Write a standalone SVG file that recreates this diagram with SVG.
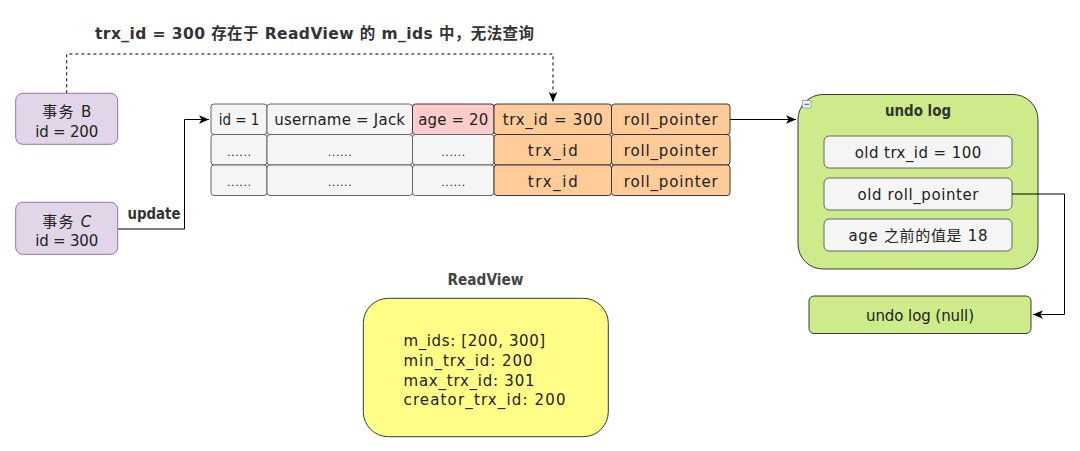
<svg xmlns="http://www.w3.org/2000/svg" width="1080" height="451" viewBox="0 0 1080 451">
<defs>
<style>
text{font-family:"DejaVu Sans","Noto Sans CJK SC",sans-serif;font-size:15px;fill:#222;text-anchor:middle;dominant-baseline:central}
.b{font-weight:bold;fill:#333}
.dots{font-size:11px}
.l{text-anchor:start}
.grey{fill:#f5f5f5;stroke:#666;stroke-width:1}
.pink{fill:#ffcccc;stroke:#36393d;stroke-width:1}
.orange{fill:#ffcc99;stroke:#36393d;stroke-width:1}
.purple{fill:#e1d5e7;stroke:#9673a6;stroke-width:1}
.green{fill:#cdeb8b;stroke:#36393d;stroke-width:1}
.yellow{fill:#ffff88;stroke:#36393d;stroke-width:1}
.inner{fill:#f5f5f5;stroke:#666;stroke-width:1}
.conn{fill:none;stroke:#000;stroke-width:1}
</style>
<marker id="arr" markerUnits="userSpaceOnUse" markerWidth="12" markerHeight="10" refX="10" refY="5" orient="auto">
<path d="M0,0.8 L10,5 L0,9.2 L2.5,5 z" fill="#000"/>
</marker>
</defs>
<rect width="1080" height="451" fill="#fff"/>

<text class="b" x="314.5" y="34" textLength="439" style="font-size:15.5px">trx_id = 300 存在于 ReadView 的 m_ids 中，无法查询</text>

<g id="connectors">
<path class="conn" d="M66.7 93.3 V54 H553 V102" stroke-dasharray="3 3" marker-end="url(#arr)"/>
<path class="conn" d="M118 229 H184.5 V119.5 H209" marker-end="url(#arr)"/>
<path class="conn" d="M730 119.5 H796" marker-end="url(#arr)"/>
<text class="b" x="154" y="214" textLength="53" lengthAdjust="spacingAndGlyphs">update</text>
</g>

<g id="txB">
<rect class="purple" x="15.7" y="93.3" width="102" height="51" rx="7"/>
<text x="66.7" y="112.3" textLength="49">事务 B</text>
<text x="66.7" y="131.7" textLength="63">id = 200</text>
</g>
<g id="txC">
<rect class="purple" x="15.7" y="202.3" width="102" height="52" rx="7"/>
<text x="66.7" y="221.7" textLength="49">事务 <tspan font-style="italic">C</tspan></text>
<text x="66.7" y="241" textLength="63">id = 300</text>
</g>

<g id="row-table">
<rect class="grey" x="211" y="104" width="56" height="30.5" rx="3"/>
<rect class="grey" x="267" y="104" width="145.5" height="30.5" rx="3"/>
<rect class="pink" x="412.5" y="104" width="81.5" height="30.5" rx="3"/>
<rect class="orange" x="494" y="104" width="117.5" height="30.5" rx="3"/>
<rect class="orange" x="611.5" y="104" width="118.5" height="30.5" rx="3"/>
<text x="239" y="120" textLength="40.7" lengthAdjust="spacingAndGlyphs">id = 1</text>
<text x="339.7" y="120" textLength="130.7">username = Jack</text>
<text x="453.2" y="120" textLength="70">age = 20</text>
<text x="552.7" y="120" textLength="100">trx_id = 300</text>
<text x="670.7" y="120" textLength="94">roll_pointer</text>

<rect class="grey" x="211" y="134.5" width="56" height="30.5" rx="3"/>
<rect class="grey" x="267" y="134.5" width="145.5" height="30.5" rx="3"/>
<rect class="grey" x="412.5" y="134.5" width="81.5" height="30.5" rx="3"/>
<rect class="orange" x="494" y="134.5" width="117.5" height="30.5" rx="3"/>
<rect class="orange" x="611.5" y="134.5" width="118.5" height="30.5" rx="3"/>
<text class="dots" x="239" y="152" textLength="24">......</text>
<text class="dots" x="339.7" y="152" textLength="24">......</text>
<text class="dots" x="453.2" y="152" textLength="24">......</text>
<text x="552.7" y="151" textLength="50">trx_id</text>
<text x="670.7" y="151" textLength="94">roll_pointer</text>

<rect class="grey" x="211" y="165" width="56" height="30.5" rx="3"/>
<rect class="grey" x="267" y="165" width="145.5" height="30.5" rx="3"/>
<rect class="grey" x="412.5" y="165" width="81.5" height="30.5" rx="3"/>
<rect class="orange" x="494" y="165" width="117.5" height="30.5" rx="3"/>
<rect class="orange" x="611.5" y="165" width="118.5" height="30.5" rx="3"/>
<text class="dots" x="239" y="182.5" textLength="24">......</text>
<text class="dots" x="339.7" y="182.5" textLength="24">......</text>
<text class="dots" x="453.2" y="182.5" textLength="24">......</text>
<text x="552.7" y="181.5" textLength="50">trx_id</text>
<text x="670.7" y="181.5" textLength="94">roll_pointer</text>
</g>

<g id="undo-log">
<rect class="green" x="798" y="94.5" width="240" height="174.5" rx="25"/>
<rect x="802.5" y="100.5" width="8.5" height="7.5" fill="#f0f0f0" stroke="#8a9aaa" stroke-width="0.8"/>
<path d="M804.5 104.3 H809" stroke="#555" stroke-width="1"/>
<text class="b" x="918" y="111" textLength="66" lengthAdjust="spacingAndGlyphs">undo log</text>
<rect class="inner" x="824" y="136" width="188" height="32" rx="5"/>
<text x="918" y="153" textLength="126.7">old trx_id = 100</text>
<rect class="inner" x="824" y="178" width="188" height="32" rx="5"/>
<text x="918" y="195" textLength="121">old roll_pointer</text>
<rect class="inner" x="824" y="219" width="188" height="32" rx="5"/>
<text x="918" y="236" textLength="139">age 之前的值是 18</text>
</g>

<g id="undo-null">
<rect class="green" x="809" y="296" width="222" height="37.5" rx="5"/>
<text x="920" y="316" textLength="108">undo log (null)</text>
</g>

<g id="connectors-2">
<path class="conn" d="M1012 194 H1064.5 V314.5 H1033" stroke="#333" marker-end="url(#arr)"/>
</g>

<g id="readview">
<text class="b" x="485.5" y="280" textLength="76" lengthAdjust="spacingAndGlyphs" style="fill:#444">ReadView</text>
<rect class="yellow" x="363.3" y="298.3" width="245" height="138.4" rx="25"/>
<text class="l" x="403.5" y="341" textLength="141.7">m_ids: [200, 300]</text>
<text class="l" x="403.5" y="360.5" textLength="129">min_trx_id: 200</text>
<text class="l" x="403.5" y="380.5" textLength="131">max_trx_id: 301</text>
<text class="l" x="403.5" y="400" textLength="162">creator_trx_id: 200</text>
</g>
</svg>
